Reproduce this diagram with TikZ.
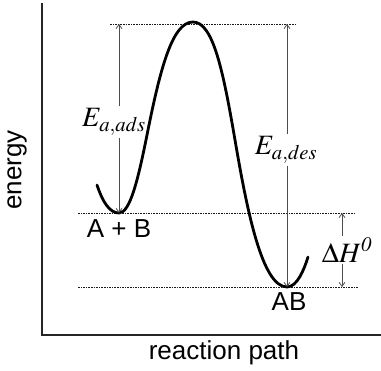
\documentclass[tikz,border=0pt]{standalone}
\usepackage{mathptmx}
\usepackage[no-math]{fontspec}
\setmainfont{Liberation Serif}
\setsansfont{Liberation Sans}
\usetikzlibrary{arrows.meta}
\tikzset{
  level/.style={dash pattern=on 1.6pt off 1pt, line width=0.7pt, gray!20!black},
  gap/.style={draw=gray!60!black, line width=0.8pt, -{Straight Barb[length=4pt,width=6pt]}},
  lbl/.style={font=\sffamily\fontsize{26}{30}\selectfont, inner sep=1pt},
  mlbl/.style={font=\fontsize{28}{32}\selectfont, inner sep=2pt},
}
\begin{document}
\begin{tikzpicture}[x=1pt,y=-1pt]
  \useasboundingbox (0,0) rectangle (381,371);
  % axes
  \draw[line width=1.2pt, gray!30!black] (42,3) -- (42,335) -- (381,335);
  \node[lbl, rotate=90] (energy) at (17,170) {energy};
  \node[lbl] (path) at (224,353) {reaction path};
  % energy levels
  \draw[level] (110,24) -- (297,24);
  \draw[level] (78,213) -- (355,213);
  \draw[level] (78,287) -- (358,287);
  % potential curve
  \draw[line width=2.8pt, line cap=round]
    (97,185) .. controls (103,203) and (110,213) .. (119,213)
    .. controls (130,213) and (138,180) .. (147,135)
    .. controls (160,70) and (172,22) .. (193,22)
    .. controls (213,22) and (223,70) .. (235,140)
    .. controls (247,210) and (262,287) .. (287,287)
    .. controls (297,287) and (304,270) .. (308,257);
  % arrow ends
  \coordinate (adsT) at (119,24);
  \coordinate (adsB) at (119,213);
  \coordinate (desT) at (287,24);
  \coordinate (desB) at (287,287);
  \coordinate (dhT) at (342,213);
  \coordinate (dhB) at (342,287);
  % labels
  \node[lbl] (ab) at (119,229) {A + B};
  \node[lbl] (prod) at (289,302) {AB};
  \node[mlbl] (eads) at (114,122) {$E_{a,ads}$};
  \node[mlbl] (edes) at (286,150) {$E_{a,des}$};
  \node[mlbl] (dh) at (347,250) {$\Delta H^{\mathit{0}}$};
  % gaps
  \draw[gap] (eads.north -| adsT) -- (adsT);
  \draw[gap] (eads.south -| adsB) -- (adsB);
  \draw[gap] (edes.north -| desT) -- (desT);
  \draw[gap] (edes.south -| desB) -- (desB);
  \draw[gap] (dh.north -| dhT) -- (dhT);
  \draw[gap] (dh.south -| dhB) -- (dhB);
\end{tikzpicture}
\end{document}
